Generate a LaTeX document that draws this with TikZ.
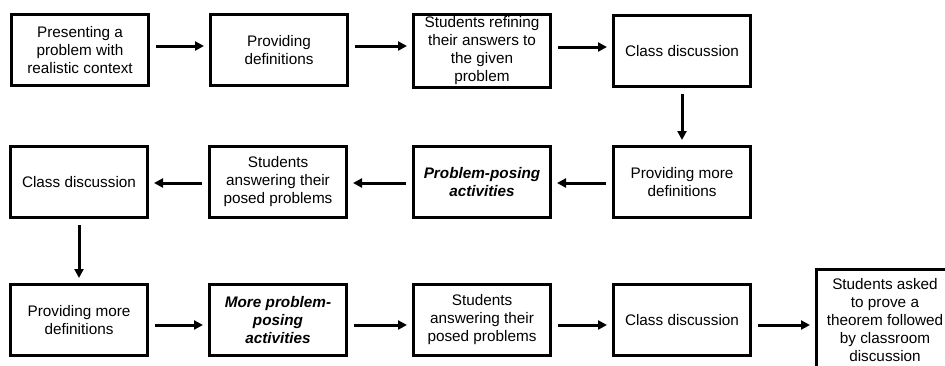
\documentclass[tikz,border=0pt]{standalone}
\usepackage{fontspec}
\setmainfont{Liberation Sans}
\usetikzlibrary{arrows.meta}

\begin{document}
\begin{tikzpicture}[
    x=1pt, y=-1pt,
    font=\fontsize{15.3}{18}\selectfont,
    box/.style={draw, line width=3pt, rectangle, fill=white, minimum width=137pt, minimum height=71pt, align=center, inner sep=2pt},
    tall/.style={box, minimum height=102pt},
    posing/.style={font=\fontsize{15.3}{18}\selectfont\bfseries\itshape},
    arr/.style={line width=3pt, -{Triangle[length=9pt,width=9pt]}, shorten <=6pt, shorten >=5pt}
  ]

  \useasboundingbox (0,0) rectangle (945,365);
  \clip (0,0) rectangle (945,365);

  % first row, left to right
  \node[box] (p1) at (80,50) {Presenting a\\problem with\\realistic context};
  \node[box] (p2) at (279,50) {Providing\\definitions};
  \node[box] (p3) at (482,51) {Students refining\\their answers to\\the given\\problem};
  \node[box] (p4) at (682,51) {Class discussion};

  % second row, right to left
  \node[box] (q4) at (682,182) {Providing more\\definitions};
  \node[box, posing] (q3) at (482,182) {Problem-posing\\activities};
  \node[box] (q2) at (278,182) {Students\\answering their\\posed problems};
  \node[box] (q1) at (79,182) {Class discussion};

  % third row, left to right
  \node[box] (r1) at (79,320) {Providing more\\definitions};
  \node[box, posing] (r2) at (278,320) {More problem-\\posing\\activities};
  \node[box] (r3) at (482,320) {Students\\answering their\\posed problems};
  \node[box] (r4) at (682,320) {Class discussion};
  \node[tall] (r5) at (885,320) {Students asked\\to prove a\\theorem followed\\by classroom\\discussion};

  \foreach \a/\b in {p1/p2, p2/p3, p3/p4}
    \draw[arr] ([yshift=4pt]\a.east) -- ([yshift=4pt]\a.east -| \b.west);
  \draw[arr] (p4) -- (q4);
  \foreach \a/\b in {q4/q3, q3/q2, q2/q1}
    \draw[arr] ([yshift=-1pt]\a.west) -- ([yshift=-1pt]\b.east);
  \draw[arr] (q1) -- (r1);
  \foreach \a/\b in {r1/r2, r2/r3, r3/r4, r4/r5}
    \draw[arr] ([yshift=-5pt]\a.east) -- ([yshift=-5pt]\b.west);

\end{tikzpicture}
\end{document}
